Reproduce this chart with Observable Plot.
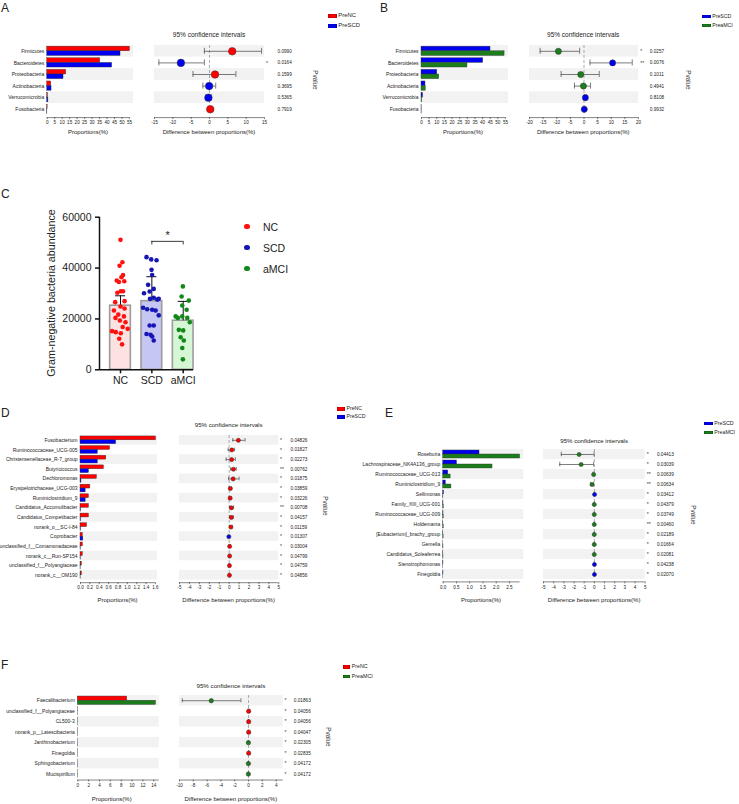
<!DOCTYPE html>
<html><head><meta charset="utf-8">
<script src="https://cdn.jsdelivr.net/npm/d3@7"></script>
<script src="https://cdn.jsdelivr.net/npm/@observablehq/plot@0.6"></script>
<style>
body{margin:0;background:#fff;}
#root{position:relative;width:739px;height:804px;overflow:hidden;font-family:"Liberation Sans",Arial,Helvetica,sans-serif;color:#222;background:#fff;}
</style></head><body><div id="root"></div>
<script>
// ---------------- DATA ----------------
// Panel A: PreNC vs PreSCD (phylum)
const taxaA = ["Firmicutes","Bacteroidetes","Proteobacteria","Actinobacteria","Verrucomicrobia","Fusobacteria"];
const groupsA = ["PreNC","PreSCD"];
const propA1 = [55.3, 35.4, 12.7, 2.7, 0.5, 0.3];
const propA2 = [49.0, 43.4, 10.9, 2.9, 0.8, 0.1];
const diffA = [6.2, -7.8, 1.5, -0.1, -0.3, 0.2];
const loA = [-1.4, -13.8, -4.5, -1.8, -1.0, -0.2];
const hiA = [14.2, -1.4, 7.2, 1.7, 0.5, 0.6];
const pA = ["0.0990","0.0164","0.1599","0.3695","0.5365","0.7919"];
const starA = ["","*","","","",""];

// Panel B: PreSCD vs PreaMCI (phylum)
const taxaB = ["Firmicutes","Bacteroidetes","Proteobacteria","Actinobacteria","Verrucomicrobia","Fusobacteria"];
const groupsB = ["PreSCD","PreaMCI"];
const propB1 = [45.2, 40.4, 10.3, 2.6, 1.0, 0.1];
const propB2 = [54.4, 30.1, 11.6, 2.8, 0.4, 0.1];
const diffB = [-9.4, 10.5, -1.2, -0.2, 0.5, 0.1];
const loB = [-16.1, 2.2, -8.4, -3.5, 0.1, -0.2];
const hiB = [-1.6, 17.7, 5.6, 2.4, 0.9, 0.4];
const pB = ["0.0257","0.0076","0.1011","0.4941","0.8108","0.9932"];
const starB = ["*","**","","","",""];

// Panel C: Gram-negative bacteria abundance
const groupsC = ["NC","SCD","aMCI"];
const meanC = [25200, 27000, 19300];
const errC = [3900, 9600, 7600];
const ncValues = [51100,42300,40900,37300,36400,35100,34800,34500,30900,30900,30300,27000,26600,24900,24100,23300,21700,21000,20400,19400,18700,16800,16100,15200,14800,14400,12200,10000];
const ncJitter = [0,0.06,-0.03,0.08,0.03,-0.12,0.12,-0.05,0.01,0.08,-0.1,0.13,-0.17,0,0.13,-0.21,-0.07,0.11,-0.16,-0.02,0.16,0.07,0.23,-0.27,-0.15,0.01,-0.04,0.05];
const scdValues = [44300,43400,43100,39300,37300,33400,31800,30800,30100,28300,27900,27900,27600,24400,23800,23600,23300,21400,17400,17400,14100,13800,13100,11500];
const scdJitter = [-0.17,-0.02,0.15,-0.01,0.01,-0.12,0.06,-0.07,-0.25,0.06,0.22,-0.06,0.17,-0.28,-0.15,0.01,0.12,0.22,-0.07,0.06,-0.17,-0.04,0.01,0.06];
const amciValues = [32800,28800,27200,25300,23600,21000,21000,20400,20400,18700,15700,15500,12800,11500,8600,4100];
const amciJitter = [-0.01,-0.05,0.18,-0.03,0.11,-0.24,-0.03,-0.17,0.13,0.21,-0.14,0,-0.08,0.02,-0.03,-0.01];
const sigC = [{from: 1, to: 2, y: 50500, label: "*"}];
const yTicksC = [0, 20000, 40000, 60000];

// Panel D: PreNC vs PreSCD (genus)
const taxaD = ["Fusobacterium","Ruminococcaceae_UCG-005","Christensenellaceae_R-7_group","Butyricicoccus","Dechloromonas","Erysipelotrichaceae_UCG-003","Ruminiclostridium_9","Candidatus_Accumulibacter","Candidatus_Competibacter","norank_o__SC-I-84","Coprobacter","unclassified_f__Comamonadaceae","norank_c__Run-SP154","unclassified_f__Polyangiaceae","norank_c__OM190"];
const groupsD = ["PreNC","PreSCD"];
const propD1 = [1.61,0.63,0.55,0.50,0.35,0.21,0.18,0.18,0.18,0.14,0.05,0.05,0.05,0.03,0.03];
const propD2 = [0.76,0.37,0.37,0.18,0.02,0.11,0.11,0.01,0.01,0.01,0.06,0.005,0.005,0.003,0.003];
const diffD = [0.93,0.27,0.25,0.43,0.40,0.12,0.10,0.22,0.22,0.18,-0.03,0.05,0.05,0.03,0.03];
const loD = [0.37,-0.1,-0.3,0.15,-0.05,0.0,0.0,0.05,0.05,0.05,-0.08,0.0,0.0,0.0,0.0];
const hiD = [1.6,0.55,0.62,0.72,1.0,0.25,0.2,0.45,0.42,0.3,0.02,0.1,0.1,0.06,0.06];
const pD = ["0.04826","0.01827","0.02273","0.00762","0.01875","0.03859","0.03226","0.00708","0.04157","0.01159","0.01307","0.03004","0.04799","0.04759","0.04856"];
const starD = ["*","*","*","**","*","*","*","**","*","*","*","*","*","*","*"];

// Panel E: PreSCD vs PreaMCI (genus)
const taxaE = ["Roseburia","Lachnospiraceae_NK4A136_group","Ruminococcaceae_UCG-013","Ruminiclostridium_9","Sellimonas","Family_XIII_UCG-001","Ruminococcaceae_UCG-009","Holdemania","[Eubacterium]_brachy_group","Gemella","Candidatus_Soleaferrea","Stenotrophomonas","Finegoldia"];
const groupsE = ["PreSCD","PreaMCI"];
const propE1 = [1.37,0.52,0.19,0.10,0.03,0.01,0.01,0.005,0.005,0.002,0.005,0.01,0.01];
const propE2 = [2.90,1.86,0.28,0.31,0.005,0.02,0.02,0.02,0.015,0.01,0.01,0.002,0.002];
const diffE = [-1.5,-1.3,-0.07,-0.23,0.02,-0.01,-0.01,-0.01,-0.01,-0.01,-0.01,0.01,0.01];
const loE = [-3.25,-3.4,-0.14,-0.36,-0.01,-0.03,-0.03,-0.03,-0.03,-0.02,-0.03,-0.01,-0.01];
const hiE = [-0.03,-0.07,-0.01,-0.08,0.04,0.0,0.0,0.0,0.0,0.0,0.0,0.03,0.03];
const pE = ["0.04413","0.03039","0.00639","0.00634","0.03412","0.04379","0.03749","0.00460","0.02189","0.01664","0.02081","0.04238","0.02070"];
const starE = ["*","*","**","**","*","*","*","**","*","*","*","*","*"];

// Panel F: PreNC vs PreaMCI (genus)
const taxaF = ["Faecalibacterium","unclassified_f__Polyangiaceae","CL500-3","norank_p__Latescibacteria","Janthinobacterium","Finegoldia","Sphingobacterium","Mucispirillum"];
const groupsF = ["PreNC","PreaMCI"];
const propF1 = [9.1,0.02,0.02,0.02,0.005,0.02,0.005,0.005];
const propF2 = [14.4,0.005,0.005,0.005,0.02,0.005,0.02,0.02];
const diffF = [-5.4,0.02,0.02,0.02,-0.02,0.02,-0.02,-0.02];
const loF = [-9.6,0.0,0.0,0.0,-0.05,0.0,-0.05,-0.05];
const hiF = [-1.1,0.05,0.05,0.05,0.0,0.05,0.0,0.0];
const pF = ["0.01863","0.04056","0.04056","0.04047","0.02305","0.02835","0.04172","0.04172"];
const starF = ["*","*","*","*","*","*","*","*"];

// ---------------- DRAWING ----------------
const root = document.getElementById("root");
const FONT = '"Liberation Sans", Arial, Helvetica, sans-serif';
const RED = "#ff0000", BLUE = "#0000f0", GREEN = "#1b7d1b";

function put(el, left, top) {
  el.style.position = "absolute";
  el.style.left = left + "px";
  el.style.top = top + "px";
  root.appendChild(el);
}
function label(text, x, y, o = {}) {
  const d = document.createElement("div");
  d.textContent = text;
  const tx = o.anchor === "start" ? "0" : o.anchor === "end" ? "-100%" : "-50%";
  d.style.cssText = `position:absolute;left:${x}px;top:${y}px;font-size:${o.size || 6}px;line-height:1;white-space:nowrap;color:${o.color || "#222"};transform:translate(${tx},-50%)${o.rotate ? ` rotate(${o.rotate}deg)` : ""};`;
  root.appendChild(d);
}
function legend(x, ys, names, colors, w, h, size) {
  names.forEach((name, k) => {
    const sw = document.createElement("div");
    sw.style.cssText = `position:absolute;left:${x}px;top:${ys[k] - h / 2}px;width:${w}px;height:${h}px;background:${colors[k]};box-shadow:inset 0 0 0 0.3px rgba(0,0,0,0.6);`;
    root.appendChild(sw);
    label(name, x + w + 1.5, ys[k], {size, anchor: "start"});
  });
}

function stamp(c) {
  const n = c.taxa.length;
  const rowsBottom = c.rowTop + n * c.step;
  const top = c.rowTop - 3;
  const axisOff = c.axisY - top;
  const H = axisOff + 16;
  const grey = c.taxa.filter((t, i) => i % 2 === 0);
  const pad = c.step * 0.1;
  const lastDy = c.axisY - (rowsBottom - c.step / 2);
  const style = {fontFamily: FONT, fontSize: "5px", color: "#222", background: "transparent", overflow: "visible"};

  // proportions bar chart
  const bW = c.barRight - c.barSvgLeft + 3;
  const bMax = (c.barRight - c.barX0) / c.barUnit;
  const barPlot = Plot.plot({
    width: bW, height: H,
    marginLeft: c.barX0 - c.barSvgLeft, marginRight: 3, marginTop: 3, marginBottom: H - axisOff,
    style,
    x: {domain: [0, bMax]},
    y: {type: "band", domain: c.taxa, padding: 0, round: false, insetBottom: c.axisY - rowsBottom},
    marks: [
      Plot.barX(grey, {x1: 0, x2: bMax, y: d => d, fill: "#f2f2f2"}),
      Plot.barX(c.taxa, {x1: 0, x2: (d, i) => c.g1[i], y: d => d, fill: c.c1, stroke: "#333", strokeWidth: 0.4, insetTop: pad, insetBottom: c.step / 2}),
      Plot.barX(c.taxa, {x1: 0, x2: (d, i) => c.g2[i], y: d => d, fill: c.c2, stroke: "#333", strokeWidth: 0.4, insetTop: c.step / 2, insetBottom: pad}),
      Plot.ruleY([c.taxa[n - 1]], {x1: c.barTicks[0], x2: c.barAxisEnd, dy: lastDy, stroke: "#333", strokeWidth: 0.6}),
      Plot.axisX({ticks: c.barTicks, tickFormat: c.barFmt, tickSize: 2, tickPadding: 1.5, fontSize: 4.6, label: null, stroke: "#333", strokeWidth: 0.6}),
      Plot.axisY({tickSize: 0, tickPadding: 3, fontSize: 5, label: null})
    ]
  });
  put(barPlot, c.barSvgLeft, top);

  // confidence-interval chart
  const ciSvgLeft = c.ciLeft - 3;
  const cW = c.pX + 32 - ciSvgLeft;
  const ciPlot = Plot.plot({
    width: cW, height: H,
    marginLeft: 3, marginRight: cW - (c.ciRight - ciSvgLeft), marginTop: 3, marginBottom: H - axisOff,
    style,
    color: {type: "identity"},
    x: {domain: c.ciDomain},
    y: {type: "band", domain: c.taxa, padding: 0, round: false, axis: null, insetBottom: c.axisY - rowsBottom},
    marks: [
      Plot.barX(grey, {x1: c.ciDomain[0], x2: c.ciDomain[1], y: d => d, fill: "#f2f2f2"}),
      Plot.ruleX([0], {stroke: "#8a8a8a", strokeWidth: 0.7, strokeDasharray: "3,2", insetBottom: c.axisY - rowsBottom}),
      Plot.ruleY(c.taxa, {y: d => d, x1: (d, i) => c.lo[i], x2: (d, i) => c.hi[i], stroke: "#444", strokeWidth: 0.7}),
      Plot.tickX(c.taxa, {x: (d, i) => c.lo[i], y: d => d, stroke: "#444", strokeWidth: 0.7, insetTop: (c.step - c.cap) / 2, insetBottom: (c.step - c.cap) / 2}),
      Plot.tickX(c.taxa, {x: (d, i) => c.hi[i], y: d => d, stroke: "#444", strokeWidth: 0.7, insetTop: (c.step - c.cap) / 2, insetBottom: (c.step - c.cap) / 2}),
      Plot.dot(c.taxa, {x: (d, i) => c.diff[i], y: d => d, r: c.r, fill: (d, i) => c.diff[i] > 0 ? c.c1 : c.c2, stroke: "#333", strokeWidth: 0.5}),
      Plot.ruleY([c.taxa[n - 1]], {x1: c.ciDomain[0], x2: c.ciAxisEnd, dy: lastDy, stroke: "#333", strokeWidth: 0.6}),
      Plot.axisX({ticks: c.ciTicks, tickFormat: d => String(d), tickSize: 2, tickPadding: 1.5, fontSize: 4.6, label: null, stroke: "#333", strokeWidth: 0.6}),
      Plot.text(c.taxa, {y: d => d, text: (d, i) => c.stars[i], frameAnchor: "right", dx: c.starX - c.ciRight, textAnchor: "start", fontSize: 5, fill: "#333"}),
      Plot.text(c.taxa, {y: d => d, text: (d, i) => c.p[i], frameAnchor: "right", dx: c.pX - c.ciRight, textAnchor: "start", fontSize: 4.7, fill: "#222"})
    ]
  });
  put(ciPlot, ciSvgLeft, top);

  label("95% confidence intervals", (c.ciLeft + c.ciRight) / 2, c.titleY, {size: c.titleSize || 6.3});
  label("Proportions(%)", c.propX, c.xlabY, {size: 6});
  label("Difference between proportions(%)", (c.ciLeft + c.ciRight) / 2, c.xlabY, {size: 6});
  label("Pvalue", c.pvalX, c.pvalY, {size: 6.3, rotate: 90, color: "#333"});
}

const rng = (a, b, s) => d3.range(a, b + s / 2, s).map(v => +v.toFixed(2));

// Panel A
stamp({taxa: taxaA, g1: propA1, g2: propA2, c1: RED, c2: BLUE, diff: diffA, lo: loA, hi: hiA, p: pA, stars: starA,
  rowTop: 44.9, step: 11.6, axisY: 117,
  barSvgLeft: 0, barX0: 46.7, barUnit: 1.4964, barRight: 133, barTicks: rng(0, 55, 5), barAxisEnd: 55, barFmt: d => String(d),
  ciLeft: 154, ciRight: 264, ciDomain: [-15, 15], ciTicks: rng(-15, 15, 5), ciAxisEnd: 15,
  starX: 265.5, pX: 277, r: 3.8, cap: 6,
  titleY: 35, titleSize: 6.5, propX: 88, xlabY: 132, pvalX: 315, pvalY: 80});
legend(328.3, [16.2, 26], groupsA, [RED, BLUE], 8.5, 4.3, 5.9);
label("A", 1, 7.7, {size: 12, anchor: "start"});

// Panel B
stamp({taxa: taxaB, g1: propB1, g2: propB2, c1: BLUE, c2: GREEN, diff: diffB, lo: loB, hi: hiB, p: pB, stars: starB,
  rowTop: 44.9, step: 11.6, axisY: 117,
  barSvgLeft: 370, barX0: 421, barUnit: 1.527, barRight: 508, barTicks: rng(0, 55, 5), barAxisEnd: 55, barFmt: d => String(d),
  ciLeft: 528.7, ciRight: 637.7, ciDomain: [-20, 20], ciTicks: rng(-20, 20, 5), ciAxisEnd: 20,
  starX: 639.5, pX: 649, r: 3.1, cap: 6,
  titleY: 35, titleSize: 6.5, propX: 463, xlabY: 132, pvalX: 688, pvalY: 80});
legend(701.7, [16.6, 25.6], groupsB, [BLUE, GREEN], 9, 3.5, 5.2);
label("B", 380, 8, {size: 12, anchor: "start"});

// Panel D
stamp({taxa: taxaD, g1: propD1, g2: propD2, c1: RED, c2: BLUE, diff: diffD, lo: loD, hi: hiD, p: pD, stars: starD,
  rowTop: 434.5, step: 9.643, axisY: 581.7,
  barSvgLeft: 0, barX0: 80, barUnit: 46.875, barRight: 157, barTicks: rng(0, 1.6, 0.2), barAxisEnd: 1.6, barFmt: d3.format(".1f"),
  ciLeft: 179, ciRight: 278.3, ciDomain: [-5, 5], ciTicks: rng(-5, 5, 1), ciAxisEnd: 5,
  starX: 279.5, pX: 290, r: 2.1, cap: 3.6,
  titleY: 425, titleSize: 6.1, propX: 117.5, xlabY: 600, pvalX: 325, pvalY: 506});
legend(336.7, [409, 417], groupsD, [RED, BLUE], 8.3, 3.4, 5.2);
label("D", 1, 412.5, {size: 12, anchor: "start"});

// Panel E
stamp({taxa: taxaE, g1: propE1, g2: propE2, c1: BLUE, c2: GREEN, diff: diffE, lo: loE, hi: hiE, p: pE, stars: starE,
  rowTop: 449.3, step: 10, axisY: 581.7,
  barSvgLeft: 360, barX0: 442.7, barUnit: 26.52, barRight: 523.3, barTicks: rng(0, 2.5, 0.5), barAxisEnd: 2.9, barFmt: d3.format(".1f"),
  ciLeft: 543.3, ciRight: 645, ciDomain: [-5, 5], ciTicks: rng(-5, 5, 1), ciAxisEnd: 5,
  starX: 646.5, pX: 656.7, r: 2.1, cap: 4.5,
  titleY: 441, titleSize: 6.1, propX: 481, xlabY: 600, pvalX: 693.3, pvalY: 515});
legend(704, [423.6, 432.6], groupsE, [BLUE, GREEN], 8.7, 3.4, 5.3);
label("E", 385, 412.5, {size: 12, anchor: "start"});

// Panel F
stamp({taxa: taxaF, g1: propF1, g2: propF2, c1: RED, c2: GREEN, diff: diffF, lo: loF, hi: hiF, p: pF, stars: starF,
  rowTop: 694.76, step: 10.48, axisY: 779.3,
  barSvgLeft: 0, barX0: 77.3, barUnit: 5.43, barRight: 158.7, barTicks: rng(0, 14, 2), barAxisEnd: 15, barFmt: d => String(d),
  ciLeft: 179, ciRight: 282.7, ciDomain: [-10, 5.02], ciTicks: rng(-10, 4, 2), ciAxisEnd: 5.02,
  starX: 284, pX: 293.3, r: 2.2, cap: 4,
  titleY: 685.7, titleSize: 6.2, propX: 111.7, xlabY: 799.3, pvalX: 328, pvalY: 736.7});
legend(343.3, [667.2, 676.5], groupsF, [RED, GREEN], 7, 3.7, 5.3);
label("F", 1, 665, {size: 12, anchor: "start"});

// Panel C
(function () {
  const top = 180, W = 300, H = 215;
  const frameL = 99, frameR = 193, frameT = 216.7, frameB = 369.3;
  const cx0 = 120, cStep = 31.35; // pixel of first category and category spacing
  const xMin = (frameL - cx0) / cStep, xMax = (frameR - cx0) / cStep;
  const fills = ["#fde2e2", "#c6c6f4", "#d6f7d6"];
  const dotCols = ["#ff1010", "#1616b4", "#12871a"];
  const pts = [
    ...ncValues.map((v, i) => ({g: 0, x: 0 + ncJitter[i], y: v})),
    ...scdValues.map((v, i) => ({g: 1, x: 1 + scdJitter[i], y: v})),
    ...amciValues.map((v, i) => ({g: 2, x: 2 + amciJitter[i], y: v}))
  ];
  const half = 0.33, capHalf = 0.16;
  const plot = Plot.plot({
    width: W, height: H,
    marginLeft: frameL, marginRight: W - frameR, marginTop: frameT - top, marginBottom: top + H - frameB,
    style: {fontFamily: FONT, fontSize: "10.5px", color: "#222", background: "transparent", overflow: "visible"},
    color: {type: "identity"},
    x: {domain: [xMin, xMax]},
    y: {domain: [0, 60000]},
    marks: [
      Plot.rectY(groupsC, {x1: (d, i) => i - half, x2: (d, i) => i + half, y1: 0, y2: (d, i) => meanC[i], fill: (d, i) => fills[i], stroke: "#9c9c9c", strokeWidth: 1.6}),
      Plot.ruleX(groupsC, {x: (d, i) => i, y1: (d, i) => meanC[i], y2: (d, i) => meanC[i] + errC[i], stroke: "#111", strokeWidth: 1}),
      Plot.ruleY(groupsC, {y: (d, i) => meanC[i] + errC[i], x1: (d, i) => i - capHalf, x2: (d, i) => i + capHalf, stroke: "#111", strokeWidth: 1}),
      Plot.dot(pts, {x: "x", y: "y", r: 2.3, fill: d => dotCols[d.g]}),
      Plot.ruleY(sigC, {y: "y", x1: "from", x2: "to", stroke: "#222", strokeWidth: 0.9}),
      Plot.ruleX(sigC, {x: "from", y1: "y", y2: d => d.y - 1400, stroke: "#222", strokeWidth: 0.9}),
      Plot.ruleX(sigC, {x: "to", y1: "y", y2: d => d.y - 1400, stroke: "#222", strokeWidth: 0.9}),
      Plot.text(sigC, {x: d => (d.from + d.to) / 2, y: "y", text: "label", dy: -6, fontSize: 11}),
      Plot.ruleX([xMin], {stroke: "#111", strokeWidth: 1.5}),
      Plot.ruleY([0], {stroke: "#111", strokeWidth: 1.5}),
      Plot.axisY({ticks: yTicksC, tickFormat: d => String(d), tickSize: 4, tickPadding: 4, fontSize: 10.5, label: null, strokeWidth: 1.5, stroke: "#111"}),
      Plot.axisX({ticks: [0, 1, 2], tickFormat: i => groupsC[i], tickSize: 4, tickPadding: 3, fontSize: 10.5, label: null, strokeWidth: 1.5, stroke: "#111"})
    ]
  });
  put(plot, 0, top);
  label("Gram-negative bacteria abundance", 51, 293, {size: 10.7, rotate: -90});
  groupsC.forEach((g, k) => {
    const y = [226.7, 247.7, 268.7][k];
    const dot = document.createElement("div");
    dot.style.cssText = `position:absolute;left:${247 - 2.6}px;top:${y - 2.6}px;width:5.2px;height:5.2px;border-radius:50%;background:${dotCols[k]};`;
    root.appendChild(dot);
    label(g, 263, y, {size: 10.5, anchor: "start"});
  });
  label("C", 1, 193.5, {size: 12, anchor: "start"});
})();
</script></body></html>
